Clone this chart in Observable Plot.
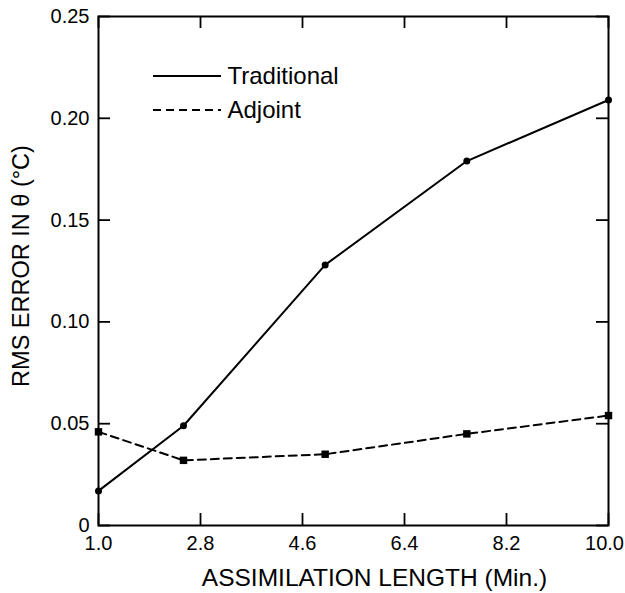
<!DOCTYPE html>
<html><head><meta charset="utf-8">
<script src="https://cdn.jsdelivr.net/npm/d3@7"></script>
<script src="https://cdn.jsdelivr.net/npm/@observablehq/plot@0.6"></script>
<style>
body{margin:0;background:#fff}
svg{font-family:"Liberation Sans",Arial,Helvetica,sans-serif}
</style>
</head><body><div id="chart"></div>
<script>
// Data
const assimLength = [1.0, 2.5, 5.0, 7.5, 10.0];
const traditional = [0.017, 0.049, 0.128, 0.179, 0.209];
const adjoint = [0.046, 0.032, 0.035, 0.045, 0.054];
const xTicks = [1.0, 2.8, 4.6, 6.4, 8.2, 10.0];
const yTicks = [0, 0.05, 0.10, 0.15, 0.20, 0.25];
const seriesNames = ["Traditional", "Adjoint"];
const xTitle = "ASSIMILATION LENGTH (Min.)";
const yTitle = "RMS ERROR IN θ (°C)";

const tradRows = assimLength.map((x, i) => ({x, y: traditional[i]}));
const adjRows = assimLength.map((x, i) => ({x, y: adjoint[i]}));

const W = 625, H = 593, mL = 98, mR = 17, mT = 16, mB = 68;
const innerW = W - mL - mR, innerH = H - mT - mB;
const tk = 12;
const fmtX = d3.format(".1f");

const chart = Plot.plot({
  width: W, height: H,
  marginLeft: mL, marginRight: mR, marginTop: mT, marginBottom: mB,
  style: {fontFamily: '"Liberation Sans",Arial,sans-serif', color: "#000", background: "#fff"},
  x: {domain: [1, 10]},
  y: {domain: [0, 0.25]},
  marks: [
    // inward ticks on all four sides
    Plot.ruleX(xTicks, {x: d => d, insetTop: innerH - tk, stroke: "#000", strokeWidth: 1.8}),
    Plot.ruleX(xTicks, {x: d => d, insetBottom: innerH - tk, stroke: "#000", strokeWidth: 1.8}),
    Plot.ruleY(yTicks, {y: d => d, insetRight: innerW - tk, stroke: "#000", strokeWidth: 1.8}),
    Plot.ruleY(yTicks, {y: d => d, insetLeft: innerW - tk, stroke: "#000", strokeWidth: 1.8}),
    Plot.axisX({ticks: xTicks.slice(0, -1), tickSize: 0, tickPadding: 10, tickFormat: fmtX, fontSize: 20, label: null}),
    Plot.axisX({ticks: xTicks.slice(-1), tickSize: 0, tickPadding: 10, tickFormat: fmtX, fontSize: 20, label: null, dx: -4}),
    Plot.axisY({ticks: yTicks, tickSize: 0, tickPadding: 9, tickFormat: d => d === 0 ? "0" : d3.format(".2f")(d), fontSize: 20, label: null}),
    Plot.text([xTitle], {frameAnchor: "bottom", dx: 21, dy: 53, fontSize: 24.5, textAnchor: "middle", lineAnchor: "middle", fill: "#000"}),
    Plot.text([yTitle], {frameAnchor: "left", dx: -77, dy: -5, rotate: -90, fontSize: 23.5, textAnchor: "middle", lineAnchor: "middle", fill: "#000"}),
    Plot.frame({stroke: "#000", strokeWidth: 2}),
    Plot.line(tradRows, {x: "x", y: "y", stroke: "#000", strokeWidth: 2}),
    Plot.line(adjRows, {x: "x", y: "y", stroke: "#000", strokeWidth: 2, strokeDasharray: "8,5"}),
    Plot.dot(tradRows, {x: "x", y: "y", r: 3.5, fill: "#000", stroke: null}),
    Plot.dot(adjRows, {x: "x", y: "y", r: 4.2, symbol: "square", fill: "#000", stroke: null}),
    // legend labels
    Plot.text([seriesNames[0]], {frameAnchor: "top-left", dx: 129, dy: 60, fontSize: 24, textAnchor: "start", lineAnchor: "middle", fill: "#000"}),
    Plot.text([seriesNames[1]], {frameAnchor: "top-left", dx: 129, dy: 94, fontSize: 24, textAnchor: "start", lineAnchor: "middle", fill: "#000"})
  ]
});

// legend line samples
const svg = d3.select(chart);
const lg = svg.append("g").attr("stroke", "#000").attr("stroke-width", 2);
lg.append("line").attr("x1", 153).attr("x2", 221).attr("y1", 76).attr("y2", 76);
lg.append("line").attr("x1", 153).attr("x2", 221).attr("y1", 110).attr("y2", 110).attr("stroke-dasharray", "8,5");

document.getElementById("chart").append(chart);
</script>
</body></html>
